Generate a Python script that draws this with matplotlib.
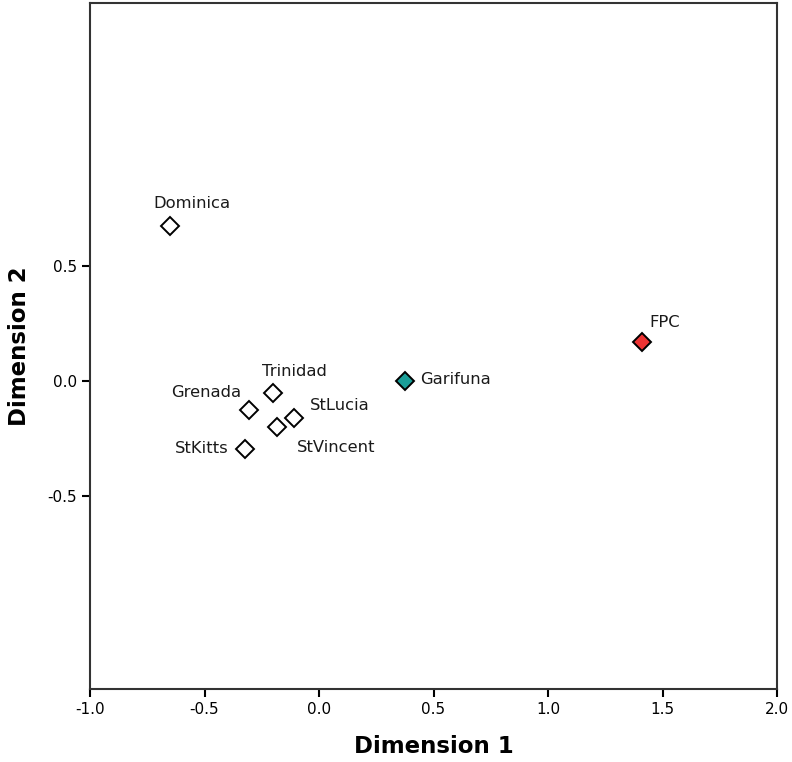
import matplotlib
matplotlib.use("Agg")
import matplotlib.pyplot as plt

names = ["Dominica", "Trinidad", "Grenada", "StLucia", "StVincent", "StKitts", "Garifuna", "FPC"]
dim1 = [-0.650, -0.203, -0.305, -0.108, -0.184, -0.322, 0.377, 1.412]
dim2 = [0.672, -0.054, -0.127, -0.159, -0.200, -0.294, 0.000, 0.169]
colors = ["white", "white", "white", "white", "white", "white", "#1a9e98", "#ee3434"]
x_ticks = [-1.0, -0.5, 0.0, 0.5, 1.0, 1.5, 2.0]
y_ticks = [-0.5, 0.0, 0.5]

# label offsets in points and alignment
label_style = {
    "Dominica": ((16, 16.5), "center"),
    "Trinidad": ((16, 16), "center"),
    "Grenada": ((-6, 13), "right"),
    "StLucia": ((11.5, 8.6), "left"),
    "StVincent": ((14.4, -15), "left"),
    "StKitts": ((-12, 0), "right"),
    "Garifuna": ((10.8, 1), "left"),
    "FPC": ((5, 14), "left"),
}

fig = plt.figure(figsize=(7.92, 7.62), dpi=100)
ax = fig.add_axes([90/792, 1-689/762, (777-90)/792, (689-3)/762])

for n, x, y, c in zip(names, dim1, dim2, colors):
    ax.plot(x, y, marker="D", markersize=9.5, markerfacecolor=c,
            markeredgecolor="black", markeredgewidth=1.4, linestyle="none", zorder=3)
    off, ha = label_style[n]
    ax.annotate(n, (x, y), xytext=off, textcoords="offset points",
                ha=ha, va="center", fontsize=11.8, color="#1a1a1a")

ax.set_xlim(-1.0, 2.0)
ax.set_ylim(-1.339, 1.643)
ax.set_xticks(x_ticks)
ax.set_xticklabels([f"{v:.1f}" for v in x_ticks])
ax.set_yticks(y_ticks)
ax.set_yticklabels([f"{v:.1f}" for v in y_ticks])
ax.tick_params(direction="out", length=6, width=1.5, labelsize=11, colors="black")
for s in ax.spines.values():
    s.set_linewidth(1.5)
    s.set_color("#333333")
ax.set_xlabel("Dimension 1", fontsize=16.5, fontweight="bold", labelpad=13)
ax.set_ylabel("Dimension 2", fontsize=16.5, fontweight="bold", labelpad=12)

fig.savefig("out.png", dpi=100)
